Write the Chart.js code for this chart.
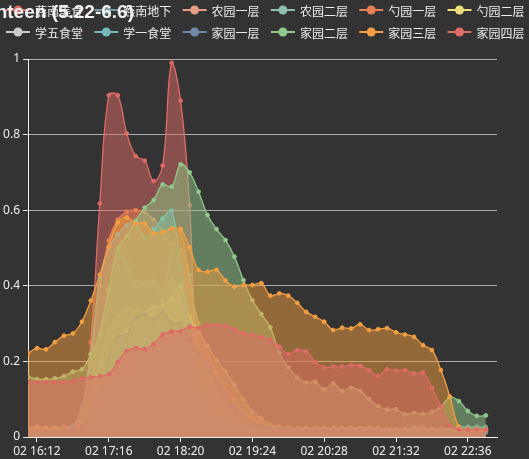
<!DOCTYPE html>
<html>
<head>
<meta charset="utf-8">
<script src="https://cdn.jsdelivr.net/npm/chart.js@4/dist/chart.umd.min.js"></script>
<style>
  html, body { margin: 0; padding: 0; background: #333; }
  #wrap { width: 529px; height: 459px; }
</style>
</head>
<body>
<div id="wrap"><canvas id="chart" width="529" height="459"></canvas></div>
<script>
// sample times (day 02), one every 8 minutes
const times = ['16:04','16:12','16:20','16:28','16:36','16:44','16:52',
  '17:00','17:08','17:16','17:24','17:32','17:40','17:48','17:56',
  '18:04','18:12','18:20','18:28','18:36','18:44','18:52',
  '19:00','19:08','19:16','19:24','19:32','19:40','19:48','19:56',
  '20:04','20:12','20:20','20:28','20:36','20:44','20:52',
  '21:00','21:08','21:16','21:24','21:32','21:40','21:48','21:56',
  '22:04','22:12','22:20','22:28','22:36','22:44','22:52'];
const tickLabels = ['16:12','17:16','18:20','19:24','20:28','21:32','22:36'];
const yTicks = [0, 0.2, 0.4, 0.6, 0.8, 1];

const seriesNames = ['燕南美食','燕南地下','农园一层','农园二层','勺园一层','勺园二层',
  '学五食堂','学一食堂','家园一层','家园二层','家园三层','家园四层'];
const seriesColors = ['#dd6b66','#759aa0','#e69d87','#8dc1a9','#ea7e53','#eedd78',
  '#73a373','#73b9bc','#7289ab','#91ca8c','#f49f42','#dd6b66'];
const hiddenSeries = ['学五食堂'];

const yanNanMeiShi = [0.02,0.02,0.02,0.02,0.025,0.03,0.07,0.25,0.618,0.904,
  0.904,0.803,0.743,0.731,0.677,0.718,0.99,0.89,0.613,0.1,
  0.04,0.025,0.02,0.02,0.018,0.018,0.015,0.015,0.015,0.015,
  0.015,0.012,0.012,0.012,0.012,0.012,0.012,0.012,0.012,0.012,
  0.012,0.012,0.012,0.012,0.012,0.012,0.012,0.012,0.012,0.012,0.012,0.012];
const yanNanDiXia = [0.01,0.01,0.01,0.012,0.012,0.015,0.03,0.06,0.12,0.17,
  0.2,0.22,0.228,0.192,0.192,0.184,0.212,0.22,0.166,0.12,
  0.052,0.04,0.03,0.02,0.018,0.016,0.015,0.015,0.015,0.015,
  0.015,0.015,0.015,0.015,0.015,0.015,0.015,0.015,0.015,0.015,
  0.015,0.015,0.02,0.028,0.027,0.018,0.018,0.022,0.027,0.027,0.027,0.027];
const nongYuan1 = [0.02,0.02,0.02,0.02,0.02,0.025,0.05,0.1,0.2,0.28,
  0.323,0.34,0.335,0.33,0.33,0.36,0.415,0.36,0.243,0.124,
  0.067,0.045,0.035,0.03,0.025,0.022,0.02,0.02,0.02,0.02,
  0.02,0.02,0.02,0.02,0.02,0.02,0.02,0.02,0.02,0.02,
  0.02,0.02,0.02,0.02,0.02,0.02,0.018,0.018,0.018,0.018,0.018,0.018];
const nongYuan2 = [0.015,0.015,0.015,0.015,0.02,0.025,0.06,0.15,0.28,0.389,
  0.495,0.46,0.411,0.407,0.413,0.38,0.49,0.495,0.429,0.243,
  0.182,0.131,0.09,0.049,0.035,0.03,0.025,0.025,0.022,0.02,
  0.02,0.02,0.02,0.02,0.02,0.02,0.02,0.02,0.02,0.02,
  0.02,0.02,0.02,0.02,0.02,0.02,0.02,0.02,0.02,0.02,0.02,0.02];
const shaoYuan1 = [0.02,0.02,0.02,0.02,0.025,0.03,0.07,0.2,0.4,0.52,
  0.575,0.596,0.6,0.595,0.575,0.545,0.51,0.545,0.4,0.3,
  0.22,0.17,0.13,0.1,0.07,0.05,0.035,0.03,0.025,0.025,
  0.025,0.025,0.025,0.025,0.025,0.025,0.025,0.025,0.025,0.025,
  0.022,0.022,0.022,0.022,0.022,0.022,0.022,0.022,0.022,0.022,0.022,0.022];
const shaoYuan2 = [0.025,0.028,0.025,0.025,0.025,0.03,0.04,0.06,0.1,0.19,
  0.257,0.279,0.301,0.327,0.345,0.347,0.367,0.4,0.318,0.279,
  0.241,0.204,0.173,0.138,0.1,0.067,0.049,0.032,0.028,0.023,
  0.023,0.023,0.023,0.023,0.023,0.023,0.023,0.023,0.023,0.023,
  0.02,0.02,0.02,0.02,0.02,0.02,0.02,0.02,0.02,0.02,0.02,0.02];
const xueWu = [];
const xueYi = [0.015,0.015,0.015,0.015,0.02,0.03,0.08,0.22,0.42,0.5,
  0.536,0.56,0.57,0.527,0.55,0.578,0.599,0.45,0.3,0.15,
  0.08,0.05,0.04,0.035,0.03,0.028,0.025,0.025,0.025,0.022,
  0.022,0.022,0.022,0.022,0.022,0.022,0.022,0.022,0.022,0.022,
  0.02,0.02,0.02,0.02,0.02,0.02,0.02,0.02,0.02,0.02,0.02,0.02];
const jiaYuan1 = [0.012,0.012,0.012,0.015,0.015,0.02,0.03,0.063,0.115,0.204,
  0.265,0.27,0.314,0.325,0.312,0.331,0.301,0.301,0.258,0.221,
  0.195,0.149,0.117,0.08,0.056,0.036,0.03,0.025,0.02,0.018,
  0.015,0.015,0.015,0.015,0.015,0.015,0.015,0.015,0.015,0.015,
  0.012,0.012,0.012,0.012,0.012,0.012,0.012,0.012,0.012,0.012,0.012,0.012];
const jiaYuan2 = [0.16,0.153,0.153,0.155,0.161,0.173,0.179,0.219,0.27,0.39,
  0.5,0.532,0.572,0.607,0.627,0.668,0.662,0.721,0.7,0.649,
  0.587,0.55,0.521,0.477,0.415,0.362,0.325,0.29,0.223,0.184,
  0.157,0.144,0.146,0.126,0.142,0.122,0.13,0.122,0.1,0.082,
  0.073,0.073,0.06,0.064,0.061,0.066,0.08,0.105,0.095,0.069,0.056,0.057];
const jiaYuan3 = [0.221,0.235,0.232,0.251,0.268,0.274,0.305,0.361,0.429,0.503,
  0.567,0.581,0.565,0.565,0.539,0.543,0.552,0.55,0.502,0.442,
  0.437,0.442,0.414,0.398,0.402,0.402,0.407,0.374,0.38,0.374,
  0.355,0.331,0.318,0.305,0.283,0.289,0.287,0.298,0.283,0.285,
  0.288,0.277,0.271,0.265,0.243,0.23,0.177,0.107,0.027,0.02,0.018,0.018];
const jiaYuan4 = [0.146,0.145,0.145,0.145,0.145,0.148,0.155,0.158,0.161,0.166,
  0.198,0.228,0.235,0.233,0.246,0.271,0.279,0.28,0.292,0.288,
  0.296,0.296,0.294,0.285,0.274,0.27,0.264,0.257,0.239,0.219,
  0.23,0.226,0.199,0.184,0.186,0.186,0.19,0.188,0.177,0.161,
  0.179,0.175,0.177,0.168,0.17,0.129,0.082,0.03,0.02,0.02,0.02,0.02];

const seriesValues = [yanNanMeiShi, yanNanDiXia, nongYuan1, nongYuan2, shaoYuan1, shaoYuan2,
  xueWu, xueYi, jiaYuan1, jiaYuan2, jiaYuan3, jiaYuan4];

function toMinutes(t) {
  const [h, m] = t.split(':').map(Number);
  return h * 60 + m;
}

function withAlpha(hex, a) {
  const n = parseInt(hex.slice(1), 16);
  return `rgba(${(n >> 16) & 255}, ${(n >> 8) & 255}, ${n & 255}, ${a})`;
}

const datasets = seriesNames.map((name, i) => ({
  label: name,
  data: seriesValues[i].map((v, k) => ({ x: toMinutes(times[k]), y: v })),
  hidden: hiddenSeries.includes(name),
  borderColor: seriesColors[i],
  backgroundColor: withAlpha(seriesColors[i], 0.5),
  pointBackgroundColor: seriesColors[i],
  pointBorderColor: seriesColors[i],
  pointBorderWidth: 1,
  pointRadius: 1.9,
  borderWidth: 1.3,
  tension: 0.4,
  fill: 'origin',
  order: seriesNames.length - i   // later series drawn on top
}));

// legend rows + clipped title, drawn on the canvas like the original
const legendAndTitle = {
  id: 'legendAndTitle',
  afterDraw(chart) {
    const ctx = chart.ctx;
    ctx.save();
    ctx.font = '12px "Noto Sans CJK SC", "Noto Sans", sans-serif';
    ctx.textBaseline = 'middle';
    ctx.textAlign = 'left';
    seriesNames.forEach((name, i) => {
      const cx = 18 + (i % 6) * 88.3;
      const cy = 10 + Math.floor(i / 6) * 22;
      const off = hiddenSeries.includes(name);
      const color = off ? '#ccc' : seriesColors[i];
      ctx.strokeStyle = color;
      ctx.lineWidth = 2;
      ctx.beginPath();
      ctx.moveTo(cx - 12, cy);
      ctx.lineTo(cx + 12, cy);
      ctx.stroke();
      ctx.fillStyle = color;
      ctx.beginPath();
      ctx.arc(cx, cy, 4.5, 0, Math.PI * 2);
      ctx.fill();
      ctx.fillStyle = '#eee';
      ctx.fillText(name, cx + 17, cy + 1);
    });
    ctx.font = 'bold 19px "Liberation Sans", sans-serif';
    ctx.fillStyle = '#f2f2f2';
    ctx.textAlign = 'right';
    ctx.textBaseline = 'alphabetic';
    ctx.fillText('Canteen (5.22-6.6)', 134, 18);
    ctx.restore();
  }
};

Chart.defaults.font.family = '"Noto Sans", "Noto Sans CJK SC", sans-serif';
Chart.defaults.font.size = 12;
Chart.defaults.color = '#eee';

new Chart(document.getElementById('chart'), {
  type: 'line',
  data: { datasets },
  options: {
    responsive: false,
    animation: false,
    layout: { padding: { top: 59, right: 32, left: 0, bottom: 0 } },
    plugins: {
      legend: { display: false },
      tooltip: { enabled: false },
      title: { display: false }
    },
    scales: {
      x: {
        type: 'linear',
        min: toMinutes('16:04'),
        max: 1382,
        afterBuildTicks: (scale) => {
          scale.ticks = tickLabels.map(t => ({ value: toMinutes(t) }));
        },
        afterFit: (scale) => { scale.height = 22; },
        ticks: {
          autoSkip: false,
          maxRotation: 0,
          padding: 2,
          color: '#eee',
          callback: (v) => {
            const h = Math.floor(v / 60), m = v % 60;
            return '02 ' + h + ':' + String(m).padStart(2, '0');
          }
        },
        grid: { drawOnChartArea: false, drawTicks: true, tickLength: 5, color: '#eee' },
        border: { color: '#eee', width: 1 }
      },
      y: {
        min: 0,
        max: 1,
        afterBuildTicks: (scale) => {
          scale.ticks = yTicks.map(v => ({ value: v }));
        },
        afterFit: (scale) => { scale.width = 28; },
        ticks: {
          padding: 3,
          color: '#eee',
          callback: (v) => String(Math.round(v * 10) / 10)
        },
        grid: { color: '#aaa', tickColor: '#eee', tickLength: 5 },
        border: { color: '#eee', width: 1 }
      }
    }
  },
  plugins: [legendAndTitle]
});
</script>
</body>
</html>
